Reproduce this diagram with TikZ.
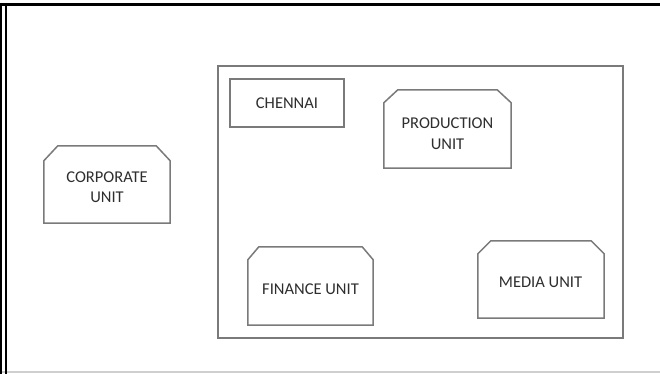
\documentclass[tikz,border=0pt]{standalone}
\usepackage{fontspec}
\setmainfont{Carlito}
\usetikzlibrary{calc}
\definecolor{boxgray}{HTML}{7A7A7A}
\definecolor{txtgray}{HTML}{2E2E2E}
\definecolor{edgegray}{HTML}{CFCFCF}
\tikzset{
  boxline/.style={draw=boxgray, line width=1.5pt},
  unitbox/.style={rectangle, draw=none, inner sep=0pt, minimum width=#1},
  plainbox/.style={rectangle, boxline, inner sep=0pt},
  unittext/.style={text=txtgray, align=center, inner sep=0pt,
    font=\fontsize{16.5}{20.5}\selectfont},
}
% chamfered outline around a named node: cut dx wide and dy deep at both top corners
\newcommand{\chamferbox}[3]{%
  \draw[boxline] (#1.south west) -- ($(#1.north west)+(0,#3)$)
    -- ($(#1.north west)+(#2,0)$) -- ($(#1.north east)+(-#2,0)$)
    -- ($(#1.north east)+(0,#3)$) -- (#1.south east) -- cycle;}
\begin{document}
\begin{tikzpicture}[x=1pt,y=-1pt]
\useasboundingbox (0,0) rectangle (660,374);
\fill[white] (0,0) rectangle (660,374);
% page frame
\draw[edgegray, line width=1.5pt] (0,372) -- (660,372);
\draw[black, line width=3pt] (0,4.5) -- (660,4.5);
\draw[black, line width=2pt] (1,3) -- (1,374);
\draw[black, line width=2pt] (5.5,4) -- (5.5,374);
% enclosing region
\node[plainbox, minimum width=405pt, minimum height=272pt] (region) at (420.5,202) {};
% units
\node[unitbox=126pt, minimum height=77pt] (corp) at (107,184.5) {};
\chamferbox{corp}{14}{15}
\node[unittext] (corptxt) at (107,187) {CORPORATE\\UNIT};
\node[plainbox, minimum width=114pt, minimum height=48pt, unittext, text=txtgray] (chennai) at (287,103) {CHENNAI};
\node[unitbox=127pt, minimum height=78pt] (prod) at (447.5,129) {};
\chamferbox{prod}{14}{13}
\node[unittext] (prodtxt) at (447.5,133.5) {PRODUCTION\\UNIT};
\node[unitbox=125pt, minimum height=78pt] (fin) at (310.5,286) {};
\chamferbox{fin}{11}{13}
\node[unittext] (fintxt) at (310.5,289) {FINANCE UNIT};
\node[unitbox=126pt, minimum height=77pt] (media) at (541,279.5) {};
\chamferbox{media}{13}{13}
\node[unittext] (mediatxt) at (540.5,282) {MEDIA UNIT};
\end{tikzpicture}
\end{document}
